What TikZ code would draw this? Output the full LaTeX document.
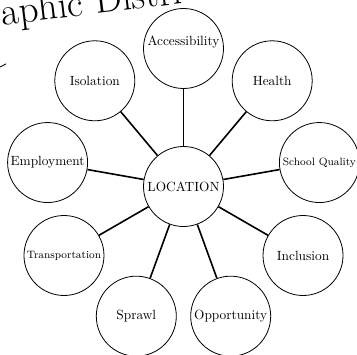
\documentclass[tikz,border=0pt]{standalone}
\usetikzlibrary{positioning}

\tikzset{
  bubble/.style={draw,circle,line width=0.6pt,minimum size=60pt,inner sep=0pt},
  link/.style={line width=1.2pt}
}

\begin{document}
\begin{tikzpicture}[every node/.style={font=\normalsize}]
  % page frame (the picture is cut at its edges)
  \clip (-137.625pt,-125.625pt) rectangle (130.125pt,139.875pt);
  % cut-off heading and mark at the top left
  \node[anchor=base west,rotate=6.8,inner sep=0pt,font=\fontsize{29}{31}\selectfont] (head) at (-136pt,121pt) {aphic Distri};
  \draw[line width=0.6pt] (-140pt,88.4pt) -- (-133pt,92pt);
  % centre
  \node[bubble] (loc) at (0,0) {LOCATION};
  % outer circles
  \node[bubble] (acc) at (90:103.5pt) {\raisebox{5pt}[0.7em][0.2em]{Accessibility}};
  \node[bubble] (hea) at (50:103.5pt) {Health};
  \node[bubble] (sch) at (10:103.5pt) {\footnotesize School Quality};
  \node[bubble] (inc) at (-30:103.5pt) {Inclusion};
  \node[bubble] (opp) at (-70:103.5pt) {Opportunity};
  \node[bubble] (spr) at (-110:103.5pt) {Sprawl};
  \node[bubble] (tra) at (-150:103.5pt) {\footnotesize Transportation};
  \node[bubble] (emp) at (170:103.5pt) {Employment};
  \node[bubble] (iso) at (130:103.5pt) {Isolation};
  % spokes
  \draw[link] (loc) -- (acc);
  \draw[link] (loc) -- (hea);
  \draw[link] (loc) -- (sch);
  \draw[link] (loc) -- (inc);
  \draw[link] (loc) -- (opp);
  \draw[link] (loc) -- (spr);
  \draw[link] (loc) -- (tra);
  \draw[link] (loc) -- (emp);
  \draw[link] (loc) -- (iso);
\end{tikzpicture}
\end{document}
